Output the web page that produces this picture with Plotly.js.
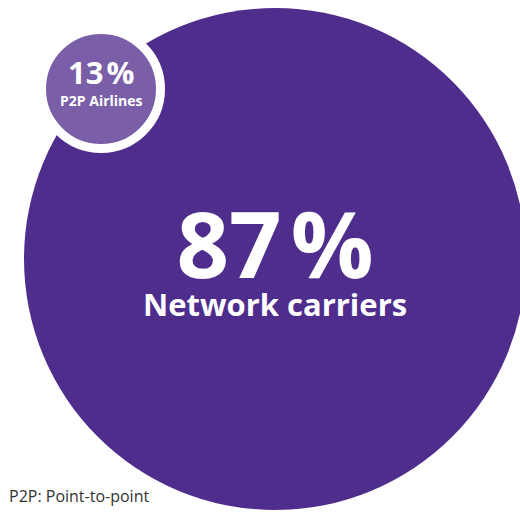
<!DOCTYPE html>
<html>
<head>
<meta charset="utf-8">
<script src="https://cdn.plot.ly/plotly-3.0.1.min.js"></script>
<style>html,body{margin:0;padding:0;background:#fff;}#chart{width:520px;height:512px;}</style>
</head>
<body>
<div id="chart"></div>
<script>
// Data
const categories = ["Network carriers", "P2P Airlines"];
const shares = [87, 13];
const footnote = "P2P: Point-to-point";

// Layout constants (pixel-like axis coordinates)
const bubbleX = [275, 101];
const bubbleY = [259, 89];
const bubbleSize = [502, 119];
const bubbleColor = ["#4f2d8d", "#7a5fa8"];
const bubbleLine = [0, 9];

const trace = {
  type: "scatter",
  mode: "markers",
  x: bubbleX,
  y: bubbleY,
  hoverinfo: "skip",
  cliponaxis: false,
  marker: {
    size: bubbleSize,
    sizemode: "diameter",
    color: bubbleColor,
    opacity: 1,
    line: { color: "#ffffff", width: bubbleLine }
  },
  showlegend: false
};

const fontFam = "Open Sans, sans-serif";
function label(i, pctSize, nameSize) {
  return "<b><span style=\"font-size:" + pctSize + "px\">" + shares[i] + "\u200A%</span><br>" +
         "<span style=\"font-size:" + nameSize + "px\">" + categories[i] + "</span></b>";
}
const annotations = [
  { x: bubbleX[0], y: 252, text: label(0, 92, 31), font: { family: fontFam, size: 29, color: "#ffffff" } },
  { x: bubbleX[1], y: 80, text: label(1, 31, 14), font: { family: fontFam, size: 17, color: "#ffffff" } },
  { x: 7, y: 496, xanchor: "left", text: footnote, font: { family: fontFam, size: 16, color: "#333333" } }
].map(a => Object.assign({ xref: "x", yref: "y", showarrow: false, xanchor: "center", yanchor: "middle", align: "center" }, a));

const layout = {
  width: 520, height: 512,
  margin: { l: 0, r: 0, t: 0, b: 0 },
  paper_bgcolor: "#ffffff",
  plot_bgcolor: "#ffffff",
  xaxis: { range: [0, 520], visible: false, fixedrange: true },
  yaxis: { range: [512, 0], visible: false, fixedrange: true },
  annotations: annotations,
  showlegend: false
};

Plotly.newPlot("chart", [trace], layout, { displayModeBar: false, staticPlot: true });
</script>
</body>
</html>
